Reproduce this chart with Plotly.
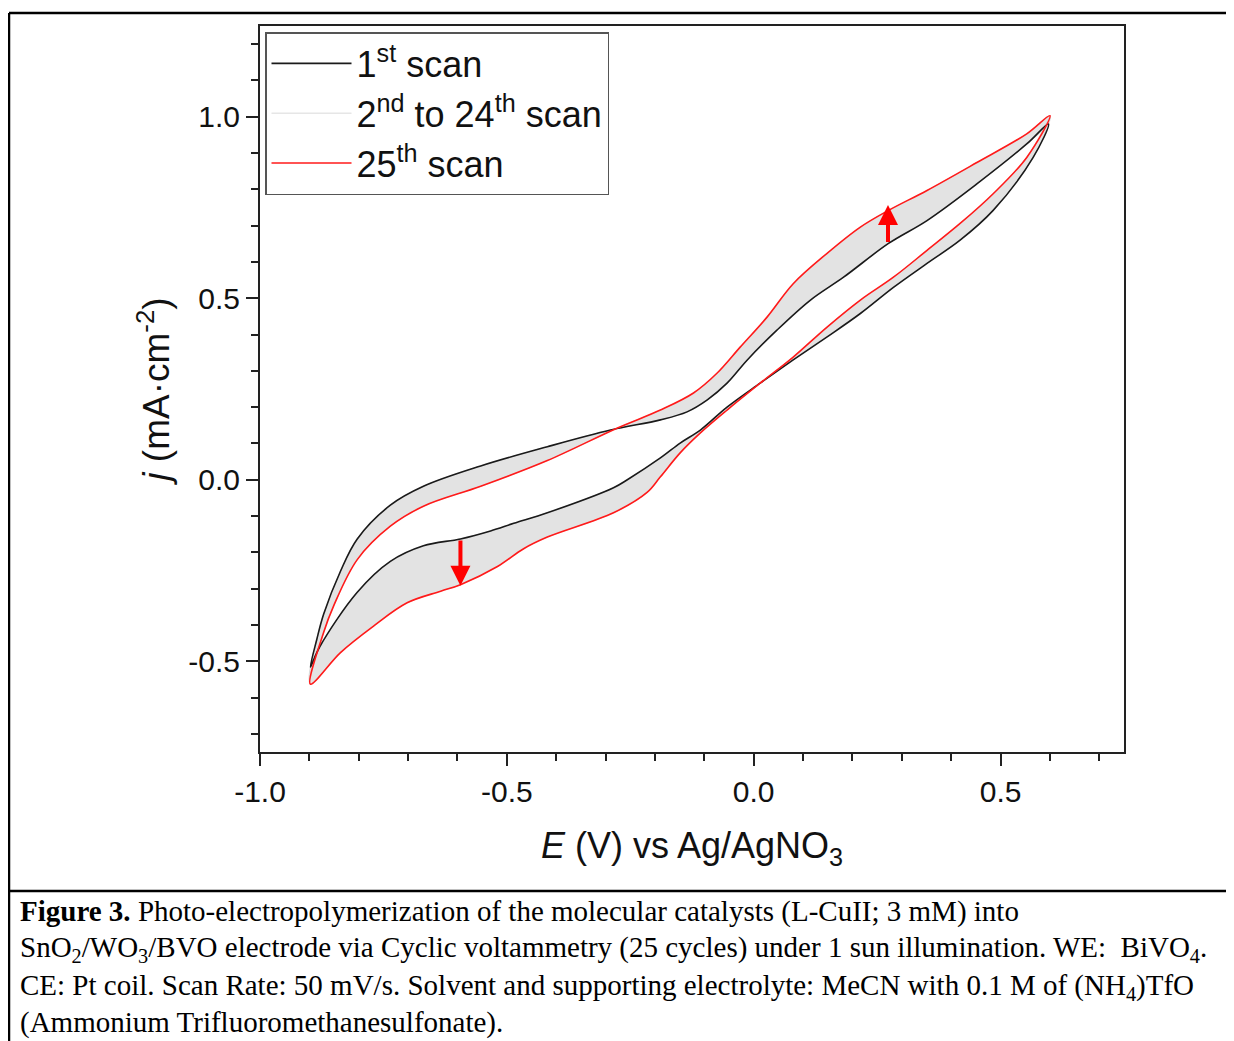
import plotly.graph_objects as go

# ---------------- data ----------------
# Scan 1 (black), forward sweep -0.9 -> 0.6 V
e_s1_fwd = [-0.898, -0.885, -0.871, -0.837, -0.803, -0.736, -0.669, -0.553, -0.418, -0.29,
            -0.189, -0.135, -0.094, -0.054, -0.013, 0.047, 0.115, 0.182, 0.273, 0.351,
            0.452, 0.553, 0.597]
j_s1_fwd = [-0.516, -0.44, -0.37, -0.252, -0.163, -0.07, -0.018, 0.038, 0.091, 0.137,
            0.165, 0.187, 0.22, 0.266, 0.33, 0.412, 0.495, 0.558, 0.651, 0.714,
            0.815, 0.925, 0.98]
# Scan 1 (black), reverse sweep 0.6 -> -0.9 V
e_s1_rev = [0.597, 0.566, 0.485, 0.418, 0.351, 0.283, 0.216, 0.148, 0.08, 0.013,
            -0.054, -0.108, -0.149, -0.189, -0.256, -0.284, -0.418, -0.486, -0.533, -0.594,
            -0.669, -0.736, -0.803, -0.879, -0.898]
j_s1_rev = [0.98, 0.888, 0.742, 0.66, 0.596, 0.53, 0.458, 0.393, 0.33, 0.266,
            0.2, 0.137, 0.101, 0.06, 0.0, -0.022, -0.091, -0.12, -0.141, -0.163,
            -0.182, -0.225, -0.31, -0.46, -0.516]
# Scan 25 (red), forward sweep
e_s25_fwd = [-0.898, -0.871, -0.851, -0.803, -0.736, -0.669, -0.553, -0.418, -0.277, -0.189,
             -0.122, -0.074, -0.027, 0.027, 0.08, 0.148, 0.216, 0.273, 0.351, 0.452,
             0.553, 0.600]
j_s25_fwd = [-0.563, -0.42, -0.348, -0.22, -0.128, -0.073, -0.018, 0.053, 0.142, 0.192,
             0.239, 0.294, 0.366, 0.448, 0.54, 0.623, 0.696, 0.742, 0.797, 0.874,
             0.953, 1.003]
# Scan 25 (red), reverse sweep
e_s25_rev = [0.600, 0.553, 0.485, 0.418, 0.351, 0.283, 0.216, 0.148, 0.08, 0.013,
             -0.054, -0.108, -0.149, -0.189, -0.216, -0.284, -0.418, -0.466, -0.519, -0.594,
             -0.634, -0.702, -0.770, -0.837, -0.898]
j_s25_rev = [1.003, 0.888, 0.788, 0.706, 0.632, 0.558, 0.495, 0.42, 0.338, 0.266,
             0.192, 0.129, 0.074, 0.008, -0.035, -0.091, -0.158, -0.19, -0.239, -0.289,
             -0.307, -0.339, -0.403, -0.476, -0.563]

series_names = ["1<sup>st</sup> scan", "2<sup>nd</sup> to 24<sup>th</sup> scan", "25<sup>th</sup> scan"]

x_tickvals = [-1.0, -0.5, 0.0, 0.5]
x_ticktext = ["-1.0", "-0.5", "0.0", "0.5"]
x_minor = [-0.9, -0.8, -0.7, -0.6, -0.4, -0.3, -0.2, -0.1, 0.1, 0.2, 0.3, 0.4, 0.6, 0.7]
y_tickvals = [-0.5, 0.0, 0.5, 1.0]
y_ticktext = ["-0.5", "0.0", "0.5", "1.0"]
y_minor = [-0.7, -0.6, -0.4, -0.3, -0.2, -0.1, 0.1, 0.2, 0.3, 0.4, 0.6, 0.7, 0.8, 0.9, 1.1, 1.2]

# arrows: (E, j_from, j_to)
arrow_up = (0.272, 0.651, 0.757)
arrow_down = (-0.594, -0.163, -0.292)

caption_lines = [
    "<b>Figure 3.</b> Photo-electropolymerization of the molecular catalysts (L-CuII; 3 mM) into",
    "SnO<sub>2</sub>/WO<sub>3</sub>/BVO electrode via Cyclic voltammetry (25 cycles) under 1 sun illumination. WE:  BiVO<sub>4</sub>.",
    "CE: Pt coil. Scan Rate: 50 mV/s. Solvent and supporting electrolyte: MeCN with 0.1 M of (NH<sub>4</sub>)TfO",
    "(Ammonium Trifluoromethanesulfonate).",
]

# ---------------- layout geometry ----------------
OFF = 8                      # page body margin
PAGE_W, PAGE_H = 1234, 1041
W, H = PAGE_W - OFF, PAGE_H - OFF
PL, PR, PT, PB = 260, 1124, 26, 752   # plot area in page pixels
ML, MR, MT, MB = PL - OFF, W - (PR - OFF), PT - OFF, H - (PB - OFF)


def px_x(p):
    return (p - PL) / (PR - PL)


def px_y(p):
    return (PB - p) / (PB - PT)


fig = go.Figure()

band_fill = "#e3e3e3"
SM = 1.0
fig.add_trace(go.Scatter(
    x=e_s1_fwd + e_s25_fwd[::-1], y=j_s1_fwd + j_s25_fwd[::-1],
    mode="lines", fill="toself", fillcolor=band_fill,
    line=dict(color="#d6d6d6", width=0.8, shape="spline", smoothing=SM),
    showlegend=False, hoverinfo="skip"))
fig.add_trace(go.Scatter(
    x=e_s1_rev + e_s25_rev[::-1], y=j_s1_rev + j_s25_rev[::-1],
    mode="lines", fill="toself", fillcolor=band_fill,
    line=dict(color="#d6d6d6", width=0.8, shape="spline", smoothing=SM),
    showlegend=False, hoverinfo="skip"))

fig.add_trace(go.Scatter(
    x=e_s1_fwd + e_s1_rev[1:], y=j_s1_fwd + j_s1_rev[1:],
    mode="lines", name=series_names[0], legendgroup="a",
    line=dict(color="#1a1a1a", width=1.6, shape="spline", smoothing=SM)))
fig.add_trace(go.Scatter(
    x=[None], y=[None], mode="lines", name=series_names[1], legendgroup="b",
    line=dict(color="#e6e6e6", width=1.6)))
fig.add_trace(go.Scatter(
    x=e_s25_fwd + e_s25_rev[1:], y=j_s25_fwd + j_s25_rev[1:],
    mode="lines", name=series_names[2], legendgroup="c",
    line=dict(color="#ff1a1a", width=1.6, shape="spline", smoothing=SM)))

for (ex, j0, j1) in (arrow_up, arrow_down):
    fig.add_annotation(x=ex, y=j1, ax=ex, ay=j0, xref="x", yref="y", axref="x", ayref="y",
                       showarrow=True, arrowhead=2, arrowsize=1.0, arrowwidth=4,
                       arrowcolor="#ff0000", text="")

serif = "Liberation Serif, Times New Roman, serif"
cap_pos = [(911, "middle"), (949, "middle"), (987, "middle"), (1040, "bottom")]
for txt, (yy, anc) in zip(caption_lines, cap_pos):
    fig.add_annotation(x=px_x(19), y=px_y(yy), xref="paper", yref="paper",
                       xanchor="left", yanchor=anc, showarrow=False, align="left",
                       borderpad=0,
                       text=txt, font=dict(family=serif, size=29, color="black"))

line_style = dict(color="black", width=2.5)
fig.add_shape(type="line", xref="paper", yref="paper", x0=px_x(9), x1=px_x(PAGE_W), y0=px_y(13), y1=px_y(13), line=line_style)
fig.add_shape(type="line", xref="paper", yref="paper", x0=px_x(9), x1=px_x(9), y0=px_y(13), y1=px_y(PAGE_H), line=line_style)
fig.add_shape(type="line", xref="paper", yref="paper", x0=px_x(9), x1=px_x(PAGE_W), y0=px_y(891), y1=px_y(891), line=line_style)

sans = "Liberation Sans, Arial, sans-serif"
common_axis = dict(showline=True, linecolor="#222", linewidth=2, mirror=True,
                   ticks="outside", ticklen=12, tickwidth=2, tickcolor="#222",
                   showgrid=False, zeroline=False,
                   tickfont=dict(family=sans, size=30, color="#111"), ticklabelstandoff=0)

fig.update_xaxes(range=[-1.0, 0.75], tickmode="array", tickvals=x_tickvals, ticktext=x_ticktext,
                 minor=dict(tickmode="array", tickvals=x_minor, ticks="outside", ticklen=7,
                            tickwidth=2, tickcolor="#222"),
                 title=dict(text="<i>E</i> (V) vs Ag/AgNO<sub>3</sub>", standoff=26,
                            font=dict(family=sans, size=36, color="#111")),
                 **common_axis)
fig.update_yaxes(range=[-0.75, 1.25], tickmode="array", tickvals=y_tickvals, ticktext=y_ticktext,
                 minor=dict(tickmode="array", tickvals=y_minor, ticks="outside", ticklen=7,
                            tickwidth=2, tickcolor="#222"),
                 title=dict(text="<i>j</i> (mA·cm<sup>-2</sup>)", standoff=7,
                            font=dict(family=sans, size=37, color="#111")),
                 **common_axis)

fig.update_layout(
    width=W, height=H,
    margin=dict(l=ML, r=MR, t=MT, b=MB, autoexpand=False),
    paper_bgcolor="white", plot_bgcolor="white",
    showlegend=True,
    legend=dict(x=px_x(265), y=px_y(32), xanchor="left", yanchor="top",
                bgcolor="white", bordercolor="#555", borderwidth=1.5,
                font=dict(family=sans, size=36, color="#111"),
                itemwidth=80, tracegroupgap=3, traceorder="normal"),
)

fig.write_html("out.html")
